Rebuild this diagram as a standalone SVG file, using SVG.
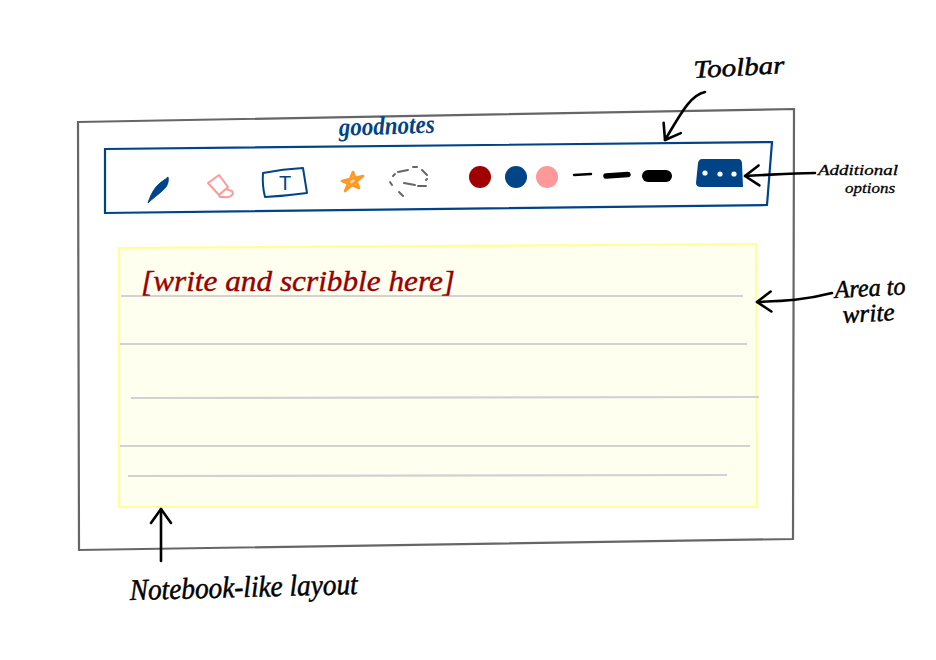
<svg xmlns="http://www.w3.org/2000/svg" width="936" height="660" viewBox="0 0 936 660">
  <style>
    .hand { font-family: "Liberation Serif", "DejaVu Serif", serif; font-style: italic; stroke-linejoin: round; }
    .note { fill: #000; stroke: #000; stroke-width: 0.5; font-size: 25px; }
    .small { fill: #000; stroke: #000; stroke-width: 0.3; font-size: 15px; }
    .rule { stroke: #d2d2d2; stroke-width: 2.2; fill: none; }
    .blue { stroke: #004488; fill: none; stroke-width: 2; stroke-linejoin: round; stroke-linecap: round; }
    .pink { stroke: #ff9999; fill: none; stroke-width: 2; stroke-linejoin: round; }
    .conn { stroke: #000; fill: none; stroke-width: 2.6; stroke-linecap: round; marker-end: url(#head); }
    .weight { stroke: #000; fill: none; stroke-linecap: round; }
  </style>
  <defs>
    <marker id="head" markerUnits="userSpaceOnUse" markerWidth="32" markerHeight="32" refX="20" refY="16" orient="auto" overflow="visible">
      <path d="M6,6 L20,16 L6,26" fill="none" stroke="#000" stroke-width="2.6" stroke-linecap="round" stroke-linejoin="round"/>
    </marker>
  </defs>
  <rect width="936" height="660" fill="#fff"/>

  <g id="frame">
    <path d="M78,122 L794,109 L793,539 L79,550 Z" fill="none" stroke="#666" stroke-width="2.2"/>
  </g>

  <g id="brand">
    <text class="hand" x="339" y="136" font-size="26" font-weight="bold" fill="#004488" textLength="96" lengthAdjust="spacingAndGlyphs" transform="rotate(-2 339 136)">goodnotes</text>
  </g>

  <g id="toolbar">
    <path d="M105,149 L772,142 L767,205 L105,213 Z" fill="none" stroke="#004488" stroke-width="2.2"/>
  </g>

  <g id="tool-pen">
    <path d="M148,203 C150,197 152,192 156,187 C160,182 165,180 168,177 C169,182 167,187 163,190 C158,195 153,198 148,203 Z" fill="#004488" stroke="#004488" stroke-width="1" stroke-linejoin="round"/>
  </g>
  <g id="tool-eraser">
    <path class="pink" d="M208,183 L219,175 L228,187 L219,195 Z"/>
    <path class="pink" d="M226,189 L232,191 L233,194 Q230,198 224,197 L220,197 L219,195"/>
  </g>
  <g id="tool-text">
    <path class="blue" d="M263,173 Q283,169 303,168 L307,193 Q285,196 265,197 Q262,185 263,173 Z"/>
    <text x="285" y="190" font-family="Liberation Sans, sans-serif" font-size="20" fill="#004488" text-anchor="middle">T</text>
  </g>
  <g id="tool-star">
    <path d="M345,191 L353,172 L359,188 L342,181 L363,176 L345,191" fill="#ff9922" fill-opacity="0.45" stroke="#ff9922" stroke-width="2.6" stroke-linejoin="round" stroke-linecap="round"/>
  </g>
  <g id="tool-lasso">
    <path d="M390,182 L392,185 M393,176 L395,174 M398,172 L408,170 M413,167 L417,167 M422,170 L427,175 M427,179 L426,180 M418,186 L426,186 M404,183 L415,185 M399,192 L403,196" fill="none" stroke="#666" stroke-width="2" stroke-linecap="round"/>
  </g>

  <g id="color-red"><circle cx="480" cy="177" r="11" fill="#a00000"/></g>
  <g id="color-blue"><circle cx="516" cy="177" r="11" fill="#004488"/></g>
  <g id="color-pink"><circle cx="547" cy="177" r="11" fill="#ff9999"/></g>

  <g id="weight-thin"><path class="weight" d="M574,175 L591,174" stroke-width="2.4"/></g>
  <g id="weight-medium"><path class="weight" d="M606,176 L628,174.500" stroke-width="5.5"/></g>
  <g id="weight-thick"><path class="weight" d="M648,176 L666,176" stroke-width="12"/></g>

  <g id="more-button">
    <path d="M702,159 L738,159 Q742,159 742,164 L743,187 L701,187 Q696,187 696,183 L698,163 Q699,159 702,159 Z" fill="#004488"/>
    <circle cx="705" cy="173" r="2.6" fill="#fff"/>
    <circle cx="720" cy="174" r="2.6" fill="#fff"/>
    <circle cx="734" cy="174" r="2.6" fill="#fff"/>
  </g>

  <g id="writing-area">
    <path d="M119,248 L756,244 L757,507 L119,507 Z" fill="#fffff0" stroke="#ffff99" stroke-width="2.2"/>
    <path class="rule" d="M121,296 L743,296"/>
    <path class="rule" d="M120,344 L747,344"/>
    <path class="rule" d="M131,398 L759,397"/>
    <path class="rule" d="M120,446 L750,446"/>
    <path class="rule" d="M128,476 L727,475"/>
    <text class="hand" x="141" y="291" font-size="30" fill="#990000" stroke="#990000" stroke-width="0.4" textLength="314" lengthAdjust="spacingAndGlyphs">[write and scribble here]</text>
  </g>

  <g id="connectors">
    <path class="conn" d="M705,92 C690,95 680,115 665,140" />
    <path class="conn" d="M815,173 C790,173 770,175 745,176"/>
    <path class="conn" d="M832,293 C805,300 785,301 757,302"/>
    <path class="conn" d="M161,561 L161,509"/>
  </g>

  <g id="label-toolbar">
    <text class="hand note" x="694" y="78" textLength="91" lengthAdjust="spacingAndGlyphs" transform="rotate(-3 694 78)">Toolbar</text>
  </g>
  <g id="label-options">
    <text class="hand small" x="818" y="175" textLength="80" lengthAdjust="spacingAndGlyphs">Additional</text>
    <text class="hand small" x="845" y="193" textLength="50" lengthAdjust="spacingAndGlyphs">options</text>
  </g>
  <g id="label-area">
    <text class="hand note" x="835" y="298" textLength="71" lengthAdjust="spacingAndGlyphs" transform="rotate(-3 835 298)">Area to</text>
    <text class="hand note" x="843" y="323" textLength="52" lengthAdjust="spacingAndGlyphs" transform="rotate(-3 843 323)">write</text>
  </g>
  <g id="label-layout">
    <text class="hand note" x="130" y="600" style="font-size:30px" textLength="228" lengthAdjust="spacingAndGlyphs" transform="rotate(-1.500 130 600)">Notebook-like layout</text>
  </g>
</svg>
